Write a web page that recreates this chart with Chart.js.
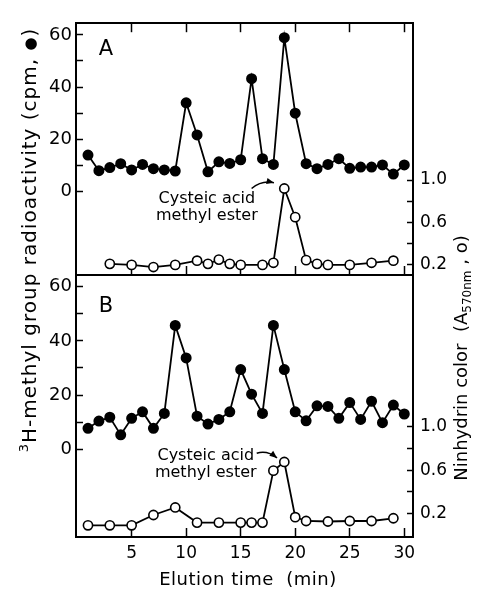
<!DOCTYPE html>
<html>
<head>
<meta charset="utf-8">
<script src="https://cdn.jsdelivr.net/npm/chart.js@4.4.1/dist/chart.umd.min.js"></script>
<style>
  body { margin: 0; background: #fff; }
  #wrap { position: relative; width: 479px; height: 589px; }
  #wrap canvas { position: absolute; left: 0; top: 0; }
</style>
</head>
<body>
<div id="wrap">
  <canvas id="chart-a" width="479" height="589"></canvas>
  <canvas id="chart-b" width="479" height="589"></canvas>
</div>
<script>
// tiempos de elucion (min)
var minutos = [1, 2, 3, 4, 5, 6, 7, 8, 9, 10, 11, 12, 13, 14, 15, 16, 17, 18, 19, 20, 21, 22, 23, 24, 25, 26, 27, 28, 29, 30];

// Panel A
var cpmA = [14, 8, 9.2, 10.7, 8.3, 10.4, 8.8, 8.3, 7.9, 34, 21.7, 7.6, 11.4, 10.8, 12.2, 43.2, 12.6, 10.4, 58.9, 30, 10.7, 8.8, 10.4, 12.6, 8.9, 9.4, 9.4, 10.2, 6.7, 10.2];
var minNinA = [3, 5, 7, 9, 11, 12, 13, 14, 15, 17, 18, 19, 20, 21, 22, 23, 25, 27, 29];
var ninA = [0.21, 0.2, 0.18, 0.2, 0.24, 0.21, 0.25, 0.21, 0.2, 0.2, 0.22, 0.92, 0.65, 0.245, 0.21, 0.2, 0.2, 0.22, 0.24];

// Panel B
var cpmB = [7.7, 10.4, 11.8, 5.3, 11.4, 13.8, 7.7, 13.2, 45.7, 33.7, 12.2, 9.3, 11, 13.8, 29.4, 20.3, 13.2, 45.7, 29.4, 13.8, 10.5, 16, 15.8, 11.4, 17.2, 11, 17.7, 9.8, 16.3, 13];
var minNinB = [1, 3, 5, 7, 9, 11, 13, 15, 16, 17, 18, 19, 20, 21, 23, 25, 27, 29];
var ninB = [0.09, 0.09, 0.09, 0.185, 0.255, 0.115, 0.115, 0.115, 0.115, 0.115, 0.595, 0.675, 0.165, 0.13, 0.125, 0.13, 0.13, 0.155];

// marcas de los ejes
var ticksX = [5, 10, 15, 20, 25, 30];
var ticksCpm = [0, 10, 20, 30, 40, 50, 60];
var ticksNin = [0.2, 0.4, 0.6, 0.8, 1.0];

var FUENTE = "'DejaVu Sans', 'Liberation Sans', sans-serif";
Chart.defaults.font.family = FUENTE;
Chart.defaults.color = '#000';

function puntos(xs, ys) {
    return xs.map(function (x, i) { return { x: x, y: ys[i] }; });
}

function fijarTicks(valores) {
    return function (scale) {
        scale.ticks = valores.map(function (v) { return { value: v }; });
    };
}

function escalaX(pos, conEtiquetas, alto) {
    return {
        type: 'linear',
        position: pos,
        min: -0.1,
        max: 30.8,
        afterBuildTicks: fijarTicks(ticksX),
        afterFit: function (s) { s.height = alto; },
        ticks: {
            display: conEtiquetas,
            padding: 15,
            font: { size: 17 },
            callback: function (v) { return String(v); }
        },
        grid: { drawOnChartArea: false, tickLength: -9, color: '#000', tickWidth: 1.5 },
        border: { color: '#000', width: 2 }
    };
}

function escalaCpm(min, max) {
    return {
        type: 'linear',
        position: 'left',
        min: min,
        max: max,
        afterBuildTicks: fijarTicks(ticksCpm),
        afterFit: function (s) { s.width = 40; },
        ticks: {
            autoSkip: false,
            padding: 11,
            font: { size: 18 },
            callback: function (v) { return v % 20 === 0 ? String(v) : ''; }
        },
        grid: { drawOnChartArea: false, tickLength: -7, color: '#000', tickWidth: 1.5 },
        border: { color: '#000', width: 2 }
    };
}

function escalaNin(min, max) {
    return {
        type: 'linear',
        position: 'right',
        min: min,
        max: max,
        afterBuildTicks: fijarTicks(ticksNin),
        afterFit: function (s) { s.width = 40; },
        ticks: {
            autoSkip: false,
            padding: 13,
            font: { size: 17 },
            callback: function (v) {
                return Math.round(v * 10) % 4 === 2 ? v.toFixed(1) : '';
            }
        },
        grid: { drawOnChartArea: false, tickLength: -6, color: '#000', tickWidth: 1.5 },
        border: { color: '#000', width: 2 }
    };
}

function series(cpm, minNin, nin) {
    return [{
        data: puntos(minutos, cpm),
        yAxisID: 'yL',
        borderColor: '#000',
        borderWidth: 1.8,
        pointRadius: 4.6,
        pointBackgroundColor: '#000',
        pointBorderColor: '#000',
        tension: 0
    }, {
        data: puntos(minNin, nin),
        yAxisID: 'yR',
        borderColor: '#000',
        borderWidth: 1.8,
        pointRadius: 4.6,
        pointBackgroundColor: '#fff',
        pointBorderColor: '#000',
        pointBorderWidth: 1.6,
        tension: 0
    }];
}

function flecha(ctx, p0, p1, p2) {
    ctx.beginPath();
    ctx.moveTo(p0.x, p0.y);
    ctx.quadraticCurveTo(p1.x, p1.y, p2.x, p2.y);
    ctx.stroke();
    var ang = Math.atan2(p2.y - p1.y, p2.x - p1.x);
    ctx.beginPath();
    ctx.moveTo(p2.x, p2.y);
    ctx.lineTo(p2.x - 8 * Math.cos(ang - 0.4), p2.y - 8 * Math.sin(ang - 0.4));
    ctx.lineTo(p2.x - 8 * Math.cos(ang + 0.4), p2.y - 8 * Math.sin(ang + 0.4));
    ctx.closePath();
    ctx.fill();
}

function textoRotado(ctx, partes, cx, cy, espacio) {
    ctx.save();
    ctx.translate(cx, cy);
    ctx.rotate(-Math.PI / 2);
    ctx.letterSpacing = espacio;
    ctx.textAlign = 'left';
    ctx.textBaseline = 'alphabetic';
    var total = 0;
    partes.forEach(function (p) { ctx.font = p.font; total += ctx.measureText(p.t).width; });
    var x = -total / 2;
    partes.forEach(function (p) {
        ctx.font = p.font;
        ctx.fillText(p.t, x, p.dy || 0);
        x += ctx.measureText(p.t).width;
    });
    ctx.restore();
}

// letra del panel + rotulo "Cysteic acid methyl ester" con su flecha
function anotacion(cfg) {
    return {
        id: 'anot' + cfg.letra,
        afterDraw: function (chart) {
            var ctx = chart.ctx, sx = chart.scales.x, sy = chart.scales.yL;
            function px(p) { return { x: sx.getPixelForValue(p[0]), y: sy.getPixelForValue(p[1]) }; }
            ctx.save();
            ctx.fillStyle = '#000';
            ctx.strokeStyle = '#000';
            ctx.lineWidth = 1.6;
            ctx.textAlign = 'center';
            ctx.textBaseline = 'alphabetic';
            ctx.font = '21px ' + FUENTE;
            var l = px(cfg.letraPos);
            ctx.fillText(cfg.letra, l.x, l.y);
            ctx.font = '16px ' + FUENTE;
            var t1 = px(cfg.linea1), t2 = px(cfg.linea2);
            ctx.fillText('Cysteic acid', t1.x, t1.y);
            ctx.fillText('methyl ester', t2.x, t2.y);
            flecha(ctx, px(cfg.flecha[0]), px(cfg.flecha[1]), px(cfg.flecha[2]));
            ctx.restore();
        }
    };
}

var titulos = {
    id: 'titulos',
    afterDraw: function (chart) {
        var ctx = chart.ctx;
        ctx.save();
        ctx.fillStyle = '#000';
        var f20 = '20px ' + FUENTE, f13 = '13px ' + FUENTE, f15 = '15px ' + FUENTE;
        var f18 = '18px ' + FUENTE, f12 = '12px ' + FUENTE;
        textoRotado(ctx, [
            { t: '3', font: f13, dy: -8 },
            { t: 'H-methyl group radioactivity (cpm, ', font: f20 },
            { t: '\u25CF', font: f15, dy: -1 },
            { t: ')', font: f20 }
        ], 36, 240, '1px');
        textoRotado(ctx, [
            { t: 'Ninhydrin color  (A', font: f18 },
            { t: '570nm', font: f12, dy: 4 },
            { t: ' , o)', font: f18 }
        ], 467, 358, '0px');
        ctx.font = '18px ' + FUENTE;
        ctx.letterSpacing = '0.5px';
        ctx.textAlign = 'center';
        ctx.fillText('Elution time  (min)', 248, 585);
        ctx.restore();
    }
};

function opciones(padding, escalas) {
    return {
        responsive: false,
        animation: false,
        layout: { padding: padding },
        plugins: { legend: { display: false }, tooltip: { enabled: false } },
        scales: escalas
    };
}

new Chart(document.getElementById('chart-a').getContext('2d'), {
    type: 'line',
    data: { datasets: series(cpmA, minNinA, ninA) },
    options: opciones({ top: 13, bottom: 314, left: 36, right: 26 }, {
        x: escalaX('bottom', false, 0),
        xTop: escalaX('top', false, 0),
        yL: escalaCpm(-31.9, 64.45),
        yR: escalaNin(0.105, 2.478)
    }),
    plugins: [anotacion({
        letra: 'A',
        letraPos: [2.64, 52.1],
        linea1: [11.9, -4.3],
        linea2: [11.9, -10.7],
        flecha: [[16.0, 1.2], [16.95, 4.5], [18.05, 3.4]]
    })]
});

new Chart(document.getElementById('chart-b').getContext('2d'), {
    type: 'line',
    data: { datasets: series(cpmB, minNinB, ninB) },
    options: opciones({ top: 275, bottom: 0, left: 36, right: 26 }, {
        x: escalaX('bottom', true, 52),
        yL: escalaCpm(-32.4, 64.3),
        yR: escalaNin(-0.018, 2.402)
    }),
    plugins: [anotacion({
        letra: 'B',
        letraPos: [2.64, 50.8],
        linea1: [11.8, -3.9],
        linea2: [11.8, -10.1],
        flecha: [[16.47, -1.5], [17.41, -0.25], [18.33, -3.2]]
    }), titulos]
});
</script>
</body>
</html>
